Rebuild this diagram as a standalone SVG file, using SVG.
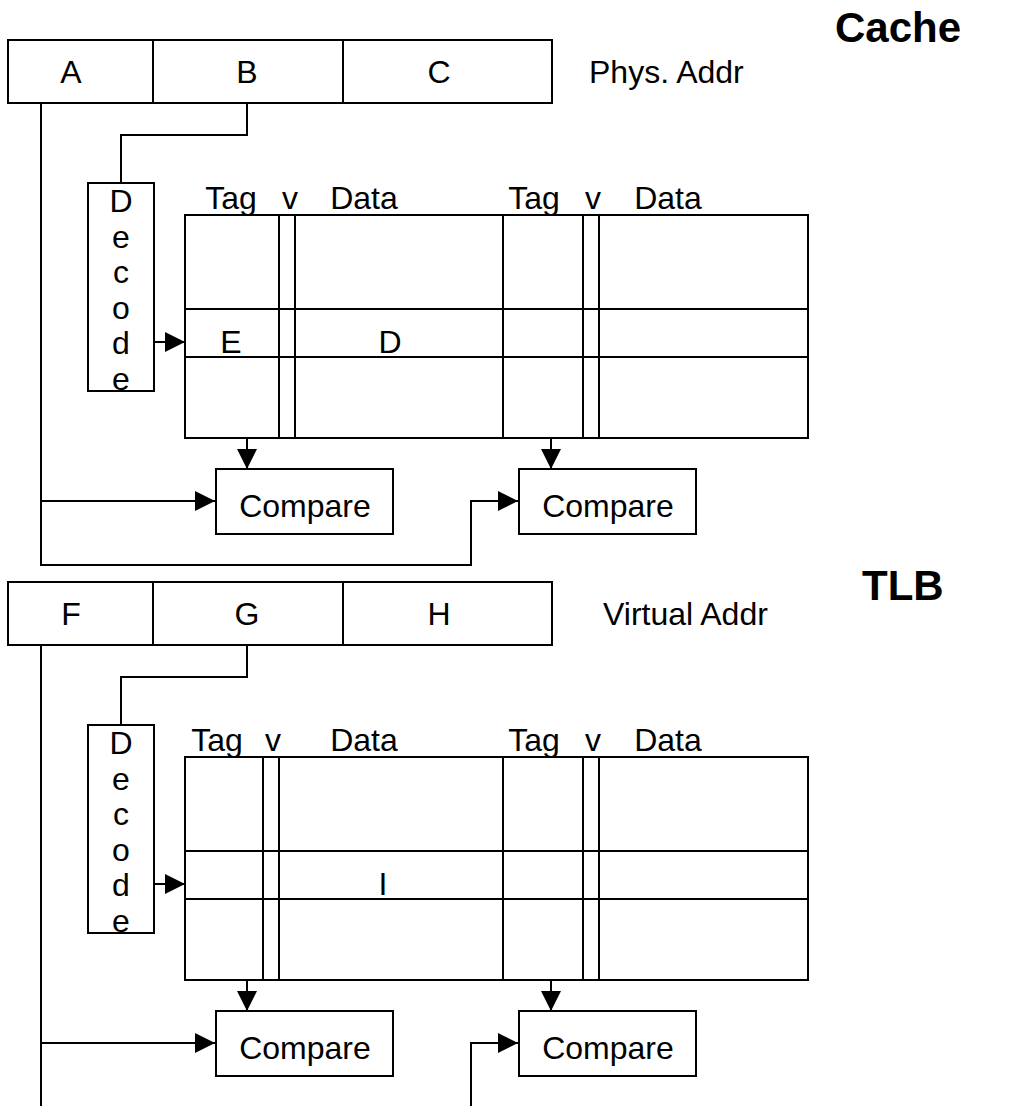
<svg xmlns="http://www.w3.org/2000/svg" width="1022" height="1106" viewBox="0 0 1022 1106">
<style>
  .box { fill: #fff; stroke: #000; stroke-width: 2; }
  .ln { fill: none; stroke: #000; stroke-width: 2; }
  .t { font-family: "Liberation Sans", Arial, sans-serif; font-size: 32px; fill: #000; }
  .c { text-anchor: middle; }
  .title { font-family: "Liberation Sans", Arial, sans-serif; font-size: 42px; font-weight: bold; fill: #000; }
</style>
<defs>
  <marker id="arr" markerWidth="20" markerHeight="20" refX="20" refY="10" orient="auto" markerUnits="userSpaceOnUse">
    <path d="M0,0 L20,10 L0,20 Z" fill="#000"/>
  </marker>
</defs>
<rect width="1022" height="1106" fill="#fff"/>

<!-- ===== CACHE ===== -->
<text class="title" x="835" y="42">Cache</text>

<g id="phys-addr">
  <rect class="box" x="8" y="40" width="544" height="63"/>
  <line class="ln" x1="153" y1="40" x2="153" y2="103"/>
  <line class="ln" x1="343" y1="40" x2="343" y2="103"/>
  <text class="t c" x="71" y="83">A</text>
  <text class="t c" x="247" y="83">B</text>
  <text class="t c" x="439" y="83">C</text>
</g>
<text class="t" x="589" y="83">Phys. Addr</text>

<g id="cache-decode">
  <rect class="box" x="88" y="183" width="66" height="208"/>
  <text class="t c" x="121" y="212">D</text>
  <text class="t c" x="121" y="248">e</text>
  <text class="t c" x="121" y="283">c</text>
  <text class="t c" x="121" y="319">o</text>
  <text class="t c" x="121" y="354">d</text>
  <text class="t c" x="121" y="390">e</text>
</g>

<g id="cache-table">
  <text class="t c" x="231" y="209">Tag</text>
  <text class="t c" x="290" y="209">v</text>
  <text class="t c" x="364" y="209">Data</text>
  <text class="t c" x="534" y="209">Tag</text>
  <text class="t c" x="593" y="209">v</text>
  <text class="t c" x="668" y="209">Data</text>
  <rect class="box" x="185" y="215" width="623" height="223" fill="none"/>
  <line class="ln" x1="185" y1="309" x2="808" y2="309"/>
  <line class="ln" x1="185" y1="357" x2="808" y2="357"/>
  <line class="ln" x1="279" y1="215" x2="279" y2="438"/>
  <line class="ln" x1="295" y1="215" x2="295" y2="438"/>
  <line class="ln" x1="503" y1="215" x2="503" y2="438"/>
  <line class="ln" x1="583" y1="215" x2="583" y2="438"/>
  <line class="ln" x1="599" y1="215" x2="599" y2="438"/>
  <text class="t c" x="231" y="353">E</text>
  <text class="t c" x="390" y="353">D</text>
</g>

<g id="cache-compare1">
  <rect class="box" x="216" y="469" width="177" height="65"/>
  <text class="t c" x="305" y="517">Compare</text>
</g>
<g id="cache-compare2">
  <rect class="box" x="519" y="469" width="177" height="65"/>
  <text class="t c" x="608" y="517">Compare</text>
</g>

<!-- ===== TLB ===== -->
<text class="title" x="862" y="600">TLB</text>

<g id="virt-addr">
  <rect class="box" x="8" y="582" width="544" height="63"/>
  <line class="ln" x1="153" y1="582" x2="153" y2="645"/>
  <line class="ln" x1="343" y1="582" x2="343" y2="645"/>
  <text class="t c" x="71" y="625">F</text>
  <text class="t c" x="247" y="625">G</text>
  <text class="t c" x="439" y="625">H</text>
</g>
<text class="t" x="603" y="625">Virtual Addr</text>

<g id="tlb-decode">
  <rect class="box" x="88" y="725" width="66" height="208"/>
  <text class="t c" x="121" y="754">D</text>
  <text class="t c" x="121" y="790">e</text>
  <text class="t c" x="121" y="825">c</text>
  <text class="t c" x="121" y="861">o</text>
  <text class="t c" x="121" y="896">d</text>
  <text class="t c" x="121" y="932">e</text>
</g>

<g id="tlb-table">
  <text class="t c" x="217" y="751">Tag</text>
  <text class="t c" x="273" y="751">v</text>
  <text class="t c" x="364" y="751">Data</text>
  <text class="t c" x="534" y="751">Tag</text>
  <text class="t c" x="593" y="751">v</text>
  <text class="t c" x="668" y="751">Data</text>
  <rect class="box" x="185" y="757" width="623" height="223" fill="none"/>
  <line class="ln" x1="185" y1="851" x2="808" y2="851"/>
  <line class="ln" x1="185" y1="899" x2="808" y2="899"/>
  <line class="ln" x1="263" y1="757" x2="263" y2="980"/>
  <line class="ln" x1="279" y1="757" x2="279" y2="980"/>
  <line class="ln" x1="503" y1="757" x2="503" y2="980"/>
  <line class="ln" x1="583" y1="757" x2="583" y2="980"/>
  <line class="ln" x1="599" y1="757" x2="599" y2="980"/>
  <text class="t c" x="383" y="895">I</text>
</g>

<g id="tlb-compare1">
  <rect class="box" x="216" y="1011" width="177" height="65"/>
  <text class="t c" x="305" y="1059">Compare</text>
</g>
<g id="tlb-compare2">
  <rect class="box" x="519" y="1011" width="177" height="65"/>
  <text class="t c" x="608" y="1059">Compare</text>
</g>

<!-- ===== CONNECTORS ===== -->
<g id="connectors">
  <polyline class="ln" points="41,103 41,565 471,565 471,501 518,501" marker-end="url(#arr)"/>
  <line class="ln" x1="41" y1="501" x2="215" y2="501" marker-end="url(#arr)"/>
  <polyline class="ln" points="247,103 247,135 121,135 121,183"/>
  <line class="ln" x1="154" y1="342" x2="185" y2="342" marker-end="url(#arr)"/>
  <line class="ln" x1="247" y1="438" x2="247" y2="469" marker-end="url(#arr)"/>
  <line class="ln" x1="551" y1="438" x2="551" y2="469" marker-end="url(#arr)"/>

  <line class="ln" x1="41" y1="645" x2="41" y2="1106"/>
  <line class="ln" x1="41" y1="1043" x2="215" y2="1043" marker-end="url(#arr)"/>
  <polyline class="ln" points="471,1106 471,1043 518,1043" marker-end="url(#arr)"/>
  <polyline class="ln" points="247,645 247,677 121,677 121,725"/>
  <line class="ln" x1="154" y1="884" x2="185" y2="884" marker-end="url(#arr)"/>
  <line class="ln" x1="247" y1="980" x2="247" y2="1011" marker-end="url(#arr)"/>
  <line class="ln" x1="551" y1="980" x2="551" y2="1011" marker-end="url(#arr)"/>
</g>
</svg>
